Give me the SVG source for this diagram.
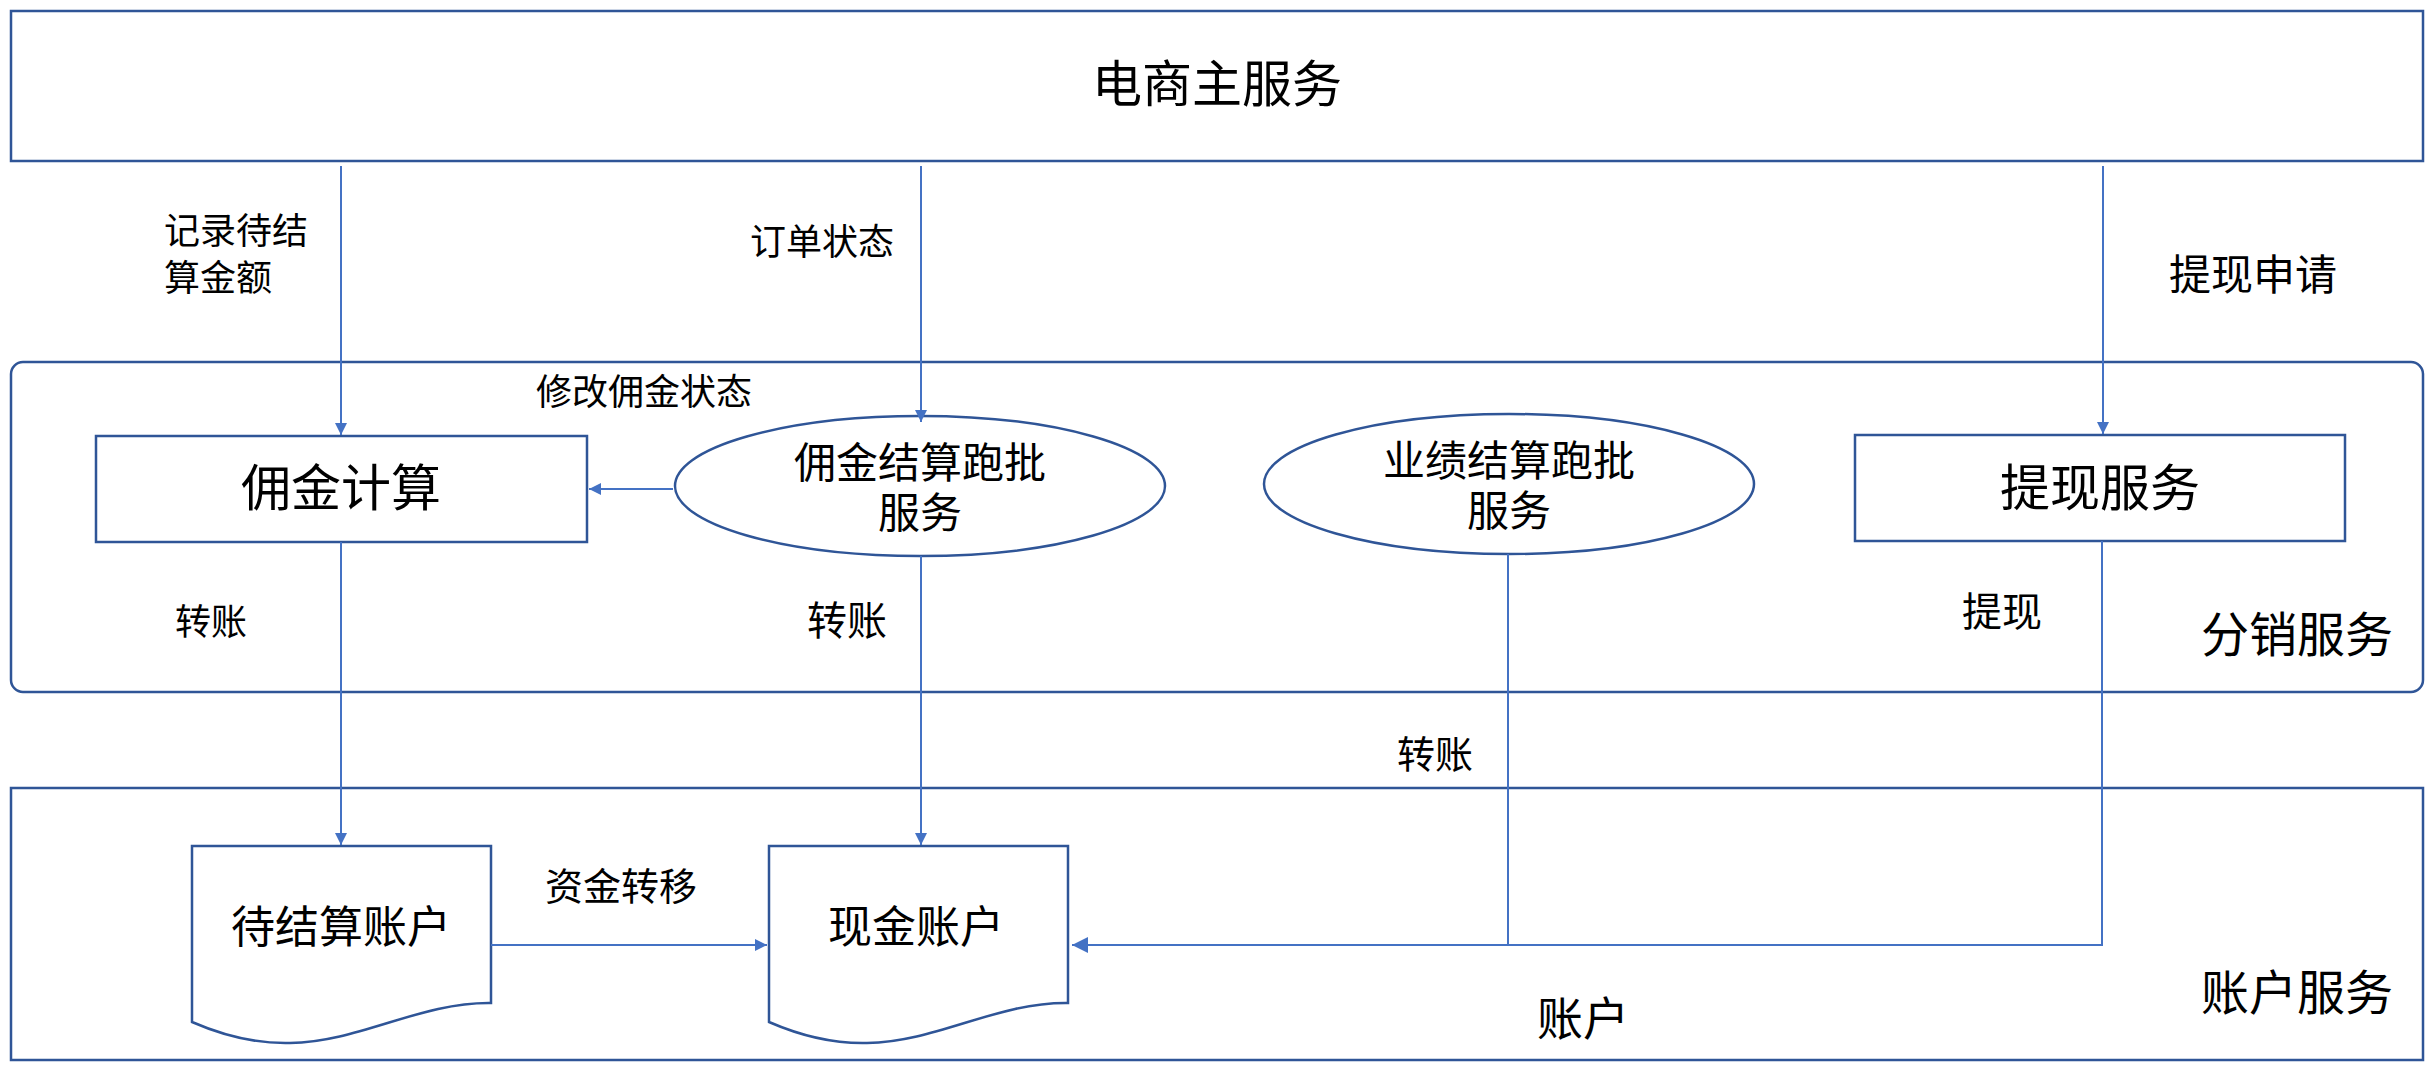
<svg xmlns="http://www.w3.org/2000/svg" width="2434" height="1068" viewBox="0 0 2434 1068">
<style>
.box{fill:#fff;stroke:#2F5597;stroke-width:2.5}
.c{fill:none;stroke:#4472C4;stroke-width:2}
text{font-family:"Liberation Sans","Noto Sans CJK SC",sans-serif;fill:#000;text-anchor:middle}
</style>
<defs>
<marker id="a" viewBox="0 0 10 10" refX="10" refY="5" markerWidth="14" markerHeight="12" orient="auto" markerUnits="userSpaceOnUse"><path d="M0,0L10,5L0,10z" fill="#4472C4"/></marker>
<marker id="ah" viewBox="0 0 10 10" refX="10" refY="5" markerWidth="16" markerHeight="18" orient="auto" markerUnits="userSpaceOnUse"><path d="M0,0L10,5L0,10z" fill="#4472C4"/></marker>
</defs>
<g id="main"><rect class="box" x="11" y="11" width="2412" height="150"/><text x="1217" y="102" font-size="50">电商主服务</text></g>
<g id="fenxiao"><rect class="box" x="11" y="362" width="2412" height="330" rx="12"/><text x="2297" y="652" font-size="48">分销服务</text></g>
<g id="zhanghu"><rect class="box" x="11" y="788" width="2412" height="272"/><text x="2297" y="1010" font-size="48">账户服务</text><text x="1583" y="1035" font-size="46">账户</text></g>
<g id="yongjin"><rect class="box" x="96" y="436" width="491" height="106"/><text x="341" y="506" font-size="50">佣金计算</text></g>
<g id="yjpp"><ellipse class="box" cx="920" cy="486" rx="245" ry="70"/><text x="920" y="478" font-size="42">佣金结算跑批</text><text x="920" y="528" font-size="42">服务</text></g>
<g id="yeji"><ellipse class="box" cx="1509" cy="484" rx="245" ry="70"/><text x="1509" y="476" font-size="42">业绩结算跑批</text><text x="1509" y="526" font-size="42">服务</text></g>
<g id="tixian"><rect class="box" x="1855" y="435" width="490" height="106"/><text x="2100" y="506" font-size="50">提现服务</text></g>
<g id="daijs"><path class="box" d="M192,846H491V1003C420,1002 360,1042 290,1043C250,1044 215,1032 192,1022Z"/><text x="341" y="943" font-size="44">待结算账户</text></g>
<g id="xianjin"><path class="box" d="M769,846H1068V1003C997,1002 937,1042 867,1043C827,1044 792,1032 769,1022Z"/><text x="916" y="943" font-size="44">现金账户</text></g>
<g id="connectors">
<path class="c" d="M341,166V435" marker-end="url(#a)"/>
<path class="c" d="M921,166V422" marker-end="url(#a)"/>
<path class="c" d="M2103,166V434" marker-end="url(#a)"/>
<path class="c" d="M673,489H589" marker-end="url(#a)"/>
<path class="c" d="M341,542V845" marker-end="url(#a)"/>
<path class="c" d="M921,556V845" marker-end="url(#a)"/>
<path class="c" d="M491,945H767" marker-end="url(#a)"/>
<path class="c" d="M2102,541V945H1509"/>
<path class="c" d="M1508,554V945H1072" stroke-width="3.5" marker-end="url(#ah)"/>
</g>
<g id="labels">
<text x="236" y="244" font-size="36">记录待结</text>
<text x="218" y="291" font-size="36">算金额</text>
<text x="822" y="255" font-size="36">订单状态</text>
<text x="2253" y="290" font-size="42">提现申请</text>
<text x="644" y="405" font-size="36">修改佣金状态</text>
<text x="211" y="635" font-size="36">转账</text>
<text x="847" y="635" font-size="40">转账</text>
<text x="2002" y="626" font-size="40">提现</text>
<text x="1435" y="768" font-size="38">转账</text>
<text x="621" y="900" font-size="38">资金转移</text>
</g>
</svg>
